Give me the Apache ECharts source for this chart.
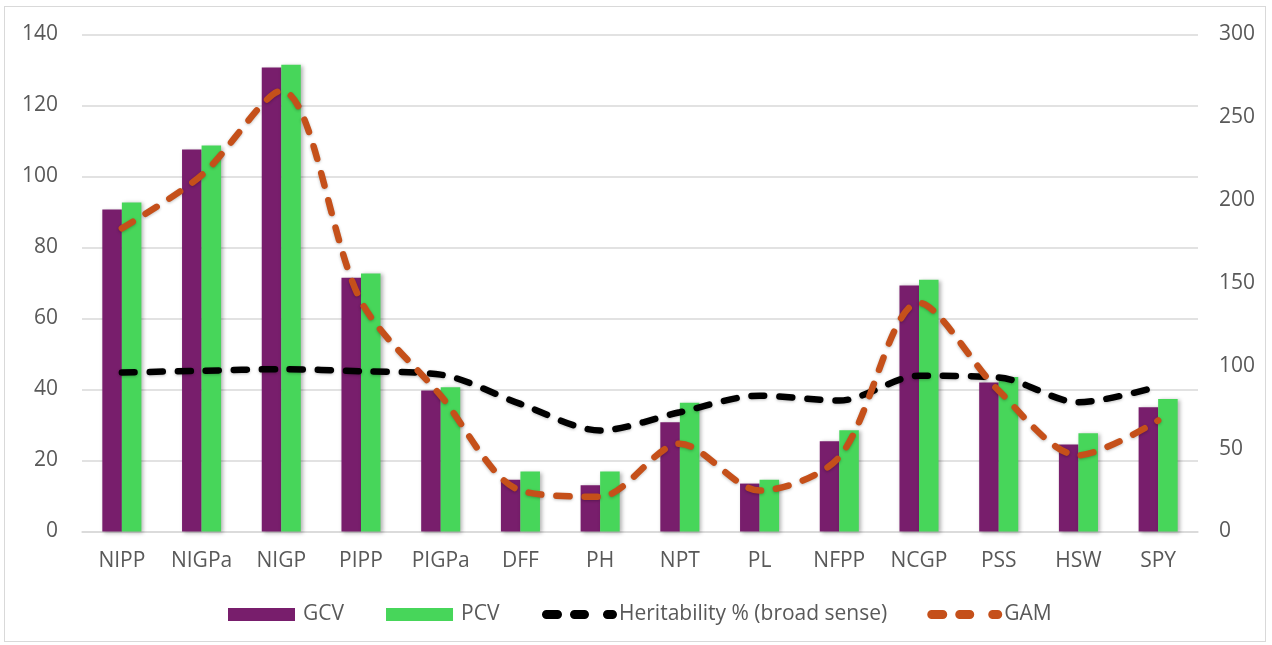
<!DOCTYPE html>
<html><head><meta charset="utf-8">
<script src="https://cdn.jsdelivr.net/npm/echarts@6/dist/echarts.min.js"></script>
<style>
html,body{margin:0;padding:0;background:#fff;}
#wrap{position:absolute;left:4px;top:6px;width:1262px;height:636px;border:1px solid #D9D9D9;box-sizing:border-box;}
#main{position:absolute;left:0;top:0;width:1272px;height:645px;}
</style></head>
<body><div id="wrap"></div><div id="main"></div>
<script>
const categories = ['NIPP','NIGPa','NIGP','PIPP','PIGPa','DFF','PH','NPT','PL','NFPP','NCGP','PSS','HSW','SPY'];
const gcv = [90.7,107.6,130.7,71.5,39.7,14.6,13.0,30.8,13.5,25.4,69.3,42.0,24.5,35.0];
const pcv = [92.7,108.7,131.5,72.7,40.6,16.9,16.9,36.3,14.6,28.5,70.9,43.5,27.7,37.3];
const heritability = [96,97,98,96.7,94.7,77,61,72,82,79,94,93,78,87.5];
const gam = [183,215,266,139,82,24.7,21,53,24.7,45,138,85,46,67];
const leftTicks = [0,140,20];
const rightTicks = [0,300,50];

const txt = '#595959';
const font = 'Open Sans';
function rr(a,b,h){const r=h/2;return `M${a+r},0 L${b-r},0 A${r},${r} 0 0 1 ${b-r},${h} L${a+r},${h} A${r},${r} 0 0 1 ${a+r},0 Z`;}
const dashIcon = 'path://' + rr(0,20,9) + ' ' + rr(28,47,9) + ' ' + rr(61,75,9);

const chart = echarts.init(document.getElementById('main'));
chart.setOption({
  animation:false,
  textStyle:{fontFamily:font},
  grid:{left:82,right:74,top:34.5,bottom:113.5},
  legend:[
    {left:228,top:604,padding:0,itemGap:42,itemWidth:67,itemHeight:13,
     textStyle:{color:txt,fontSize:21,fontFamily:font,padding:[0,0,0,3]},
     data:[{name:'GCV',icon:'rect'},{name:'PCV',icon:'rect'}]},
    {left:542,top:604,padding:0,itemGap:40,itemWidth:75,itemHeight:9,
     textStyle:{color:txt,fontSize:21,fontFamily:font,padding:[0,0,0,-3]},
     data:[{name:'Heritability % (broad sense)',icon:dashIcon},{name:'GAM',icon:dashIcon}]}
  ],
  xAxis:{type:'category',data:categories,
    axisLine:{lineStyle:{color:'#D9D9D9',width:1.5}},axisTick:{show:false},
    axisLabel:{color:txt,fontSize:21,margin:19}},
  yAxis:[
    {type:'value',min:leftTicks[0],max:leftTicks[1],interval:leftTicks[2],
     axisLabel:{color:txt,fontSize:21,margin:24},
     splitLine:{lineStyle:{color:'#D9D9D9',width:1.5}},axisLine:{show:false}},
    {type:'value',min:rightTicks[0],max:rightTicks[1],interval:rightTicks[2],
     axisLabel:{color:txt,fontSize:21,margin:21},
     splitLine:{show:false},axisLine:{show:false}}
  ],
  series:[
    {name:'GCV',type:'bar',data:gcv,barGap:'0%',barCategoryGap:'51%',
     itemStyle:{color:'#781E6C',shadowBlur:4,shadowColor:'rgba(0,0,0,0.3)',shadowOffsetX:2,shadowOffsetY:1}},
    {name:'PCV',type:'bar',data:pcv,
     itemStyle:{color:'#47D65A',shadowBlur:4,shadowColor:'rgba(0,0,0,0.3)',shadowOffsetX:2,shadowOffsetY:1}},
    {name:'Heritability % (broad sense)',type:'line',yAxisIndex:1,data:heritability,smooth:0.3,
     symbol:'none',itemStyle:{color:'#000'},
     lineStyle:{color:'#000',width:6.5,type:[13,15],cap:'round',shadowBlur:3,shadowColor:'rgba(0,0,0,0.25)',shadowOffsetY:1}},
    {name:'GAM',type:'line',yAxisIndex:1,data:gam,smooth:0.3,
     symbol:'none',itemStyle:{color:'#C5501A'},
     lineStyle:{color:'#C5501A',width:6.5,type:[13,15],cap:'round',shadowBlur:3,shadowColor:'rgba(0,0,0,0.25)',shadowOffsetY:1}}
  ]
});
</script></body></html>
